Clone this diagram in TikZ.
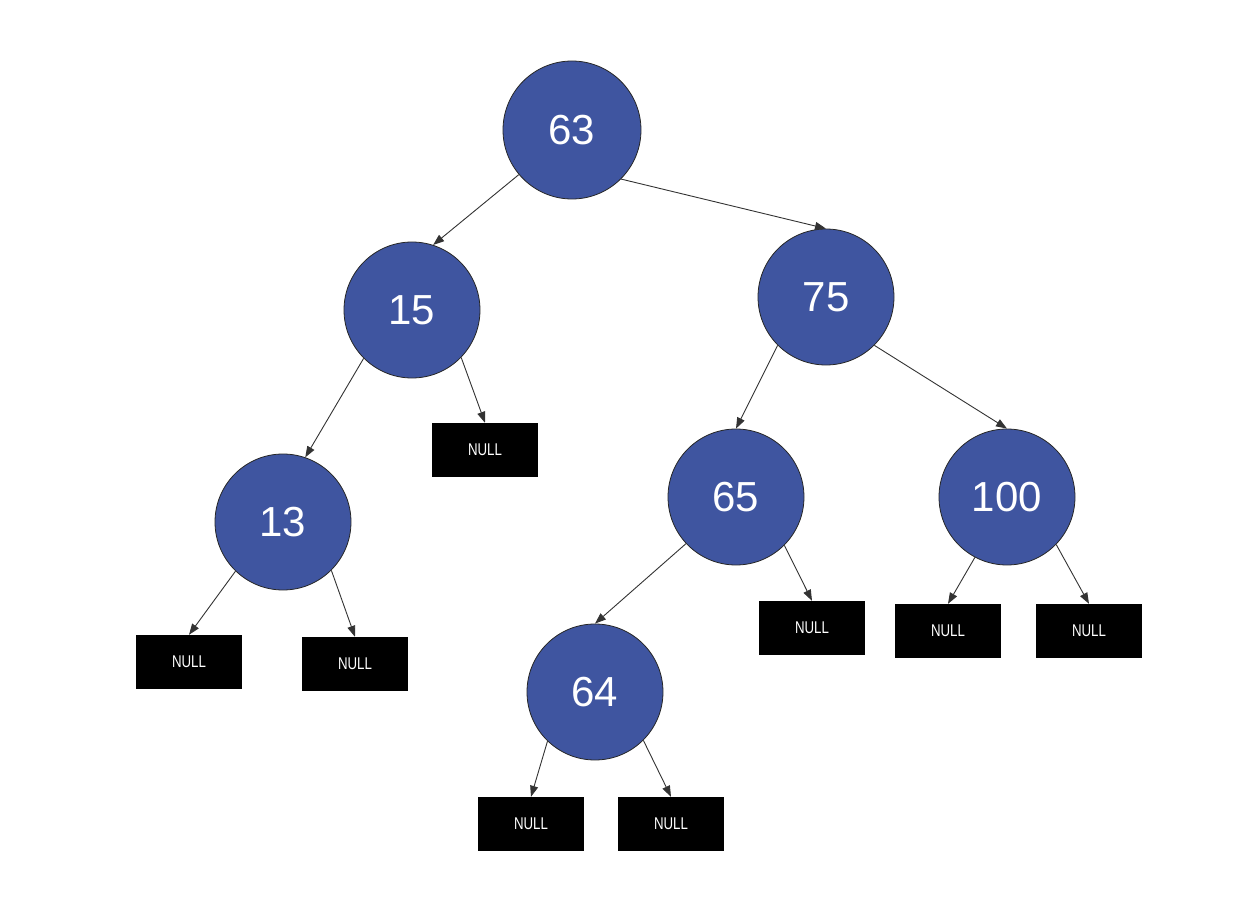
\documentclass[tikz,border=0pt]{standalone}
\usepackage{fontspec}
\usepackage{graphicx}
\setmainfont{Liberation Sans}
\usetikzlibrary{arrows.meta}
\definecolor{nodeblue}{HTML}{3F55A0}
\tikzset{
  treenode/.style={circle, draw=black!85, line width=0.8pt, fill=nodeblue,
    minimum size=136pt, inner sep=0pt, text=white,
    font=\fontsize{42}{44}\selectfont},
  nullbox/.style={rectangle, fill=black, minimum width=106pt, minimum height=54pt,
    inner sep=0pt, text=white, font=\fontsize{17}{19}\selectfont},
  link/.style={draw=black!80, line width=0.9pt,
    -{Triangle[length=11pt,width=8pt]}}
}
\newcommand{\nulltext}{\scalebox{0.78}[1]{NULL}}
\begin{document}
\begin{tikzpicture}[x=1pt,y=-1pt]
  \useasboundingbox (0,0) rectangle (1254,912);
  % keys
  \node[treenode, minimum size=138pt] (n63) at (572,130) {63};
  \node[treenode] (n15) at (412,310) {15};
  \node[treenode] (n75) at (826,297) {75};
  \node[treenode] (n13) at (283,522) {13};
  \node[treenode] (n65) at (736,497) {65};
  \node[treenode] (n100) at (1007,497) {100};
  \node[treenode] (n64) at (595,692) {64};
  % empty subtrees
  \node[nullbox] (z15) at (485,450) {\nulltext};
  \node[nullbox] (z13l) at (189,662) {\nulltext};
  \node[nullbox] (z13r) at (355,664) {\nulltext};
  \node[nullbox] (z65) at (812,628) {\nulltext};
  \node[nullbox] (z100l) at (948,631) {\nulltext};
  \node[nullbox] (z100r) at (1089,631) {\nulltext};
  \node[nullbox] (z64l) at (531,824) {\nulltext};
  \node[nullbox] (z64r) at (671,824) {\nulltext};
  % child pointers
  \draw[link] (n63.-140) -- (n15.72);
  \draw[link] (n63.-45) -- (n75.north);
  \draw[link] (n15.-135) -- (n13.71);
  \draw[link] (n15.-44) -- (z15.north);
  \draw[link] (n13.-134) -- (z13l.north);
  \draw[link] (n13.-45) -- (z13r.north);
  \draw[link] (n75.-135) -- (n65.north);
  \draw[link] (n75.-45) -- (n100.north);
  \draw[link] (n65.-137) -- (n64.north);
  \draw[link] (n65.-45) -- (z65.north);
  \draw[link] (n100.-118) -- (z100l.north);
  \draw[link] (n100.-44) -- (z100r.north);
  \draw[link] (n64.-134) -- (z64l.north);
  \draw[link] (n64.-45) -- (z64r.north);
\end{tikzpicture}
\end{document}
